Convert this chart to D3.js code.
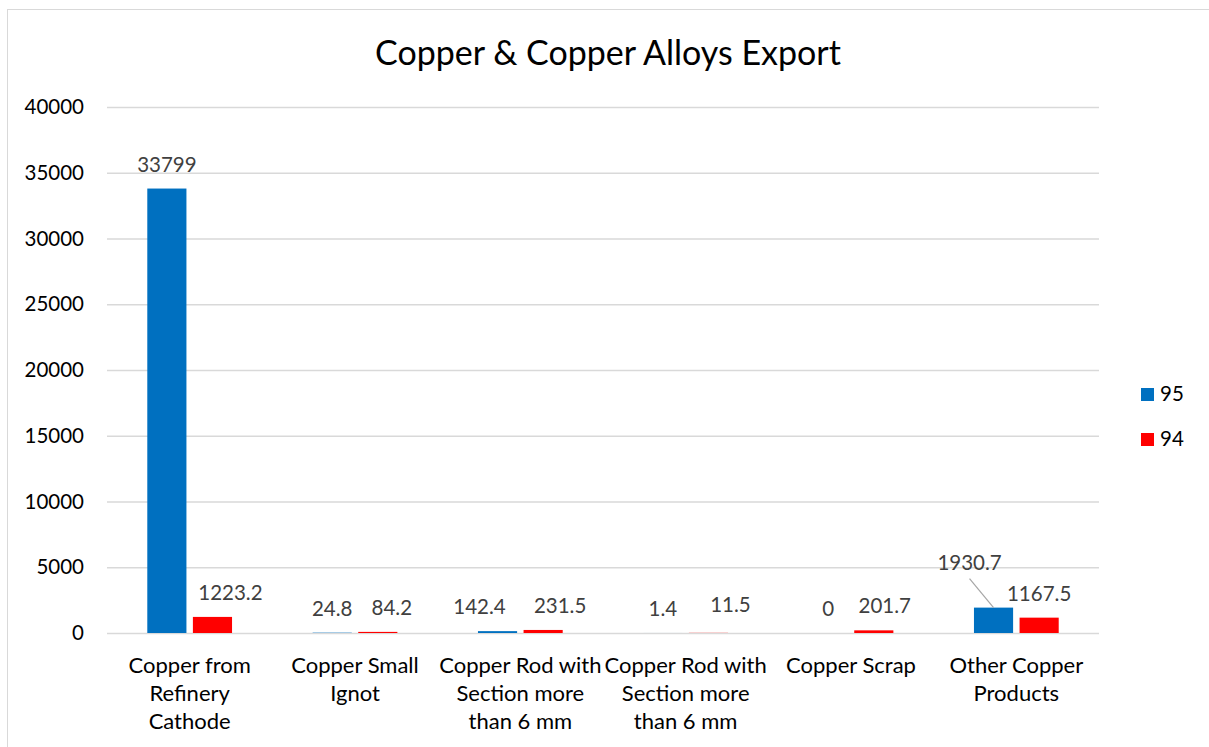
<!DOCTYPE html>
<html>
<head>
<meta charset="utf-8">
<script src="https://cdn.jsdelivr.net/npm/d3@7"></script>
<style>
  html, body { margin: 0; padding: 0; background: #fff; }
  svg { display: block; font-family: Lato, "Open Sans", sans-serif; }
</style>
</head>
<body>
<svg id="chart" width="1209" height="747"></svg>
<script>
// Export volumes by product
const categories = [
  "Copper from Refinery Cathode",
  "Copper Small Ignot",
  "Copper Rod with Section more than 6 mm",
  "Copper Rod with Section more than 6 mm",
  "Copper Scrap",
  "Other Copper Products"
];
const seriesNames = ["95", "94"];
const values95 = [33799, 24.8, 142.4, 1.4, 0, 1930.7];
const values94 = [1223.2, 84.2, 231.5, 11.5, 201.7, 1167.5];
const yTicks = [0, 5000, 10000, 15000, 20000, 25000, 30000, 35000, 40000];
const colors = ["#0070C0", "#FF0000"];

const svg = d3.select("#chart");

// chart frame
svg.append("rect")
  .attr("x", 7.5).attr("y", 9.5)
  .attr("width", 1220).attr("height", 760)
  .attr("fill", "#fff").attr("stroke", "#d9d9d9").attr("stroke-width", 1);

const plot = { left: 107, right: 1099, top: 107, bottom: 633 };

const y = d3.scaleLinear().domain([0, 40000]).range([plot.bottom, plot.top]);
const x = d3.scaleBand().domain(d3.range(categories.length))
  .range([plot.left, plot.right]).paddingInner(0).paddingOuter(0);
const bw = x.bandwidth();
const barW = bw * 0.22;
const sub = d3.scaleBand().domain(seriesNames)
  .range([bw / 2 - barW - 6, bw / 2 + barW + 6]).paddingInner(12 / (2 * barW + 12)).paddingOuter(0);

// title
svg.append("text")
  .attr("x", 608).attr("y", 65)
  .attr("text-anchor", "middle")
  .attr("font-size", 34)
  .attr("fill", "#000")
  .text("Copper & Copper Alloys Export");

// gridlines + y axis labels
const yAxis = d3.axisLeft(y).tickValues(yTicks).tickFormat(d3.format("d"))
  .tickSize(-(plot.right - plot.left)).tickPadding(23);
const gy = svg.append("g").attr("transform", `translate(${plot.left},0)`).call(yAxis);
gy.select(".domain").remove();
gy.selectAll(".tick line").attr("stroke", "#d9d9d9").attr("stroke-width", 1.3);
gy.selectAll(".tick text")
  .attr("font-size", 20.5).attr("font-family", "Lato, 'Open Sans', sans-serif")
  .attr("fill", "#000");

// bars
const series = [values95, values94];
series.forEach((vals, si) => {
  svg.append("g").selectAll("rect")
    .data(vals)
    .join("rect")
    .attr("x", (d, i) => x(i) + sub(seriesNames[si]))
    .attr("width", sub.bandwidth())
    .attr("y", d => y(d))
    .attr("height", d => Math.max(0, y(0) - y(d)))
    .attr("fill", colors[si]);
});

// data labels; some are nudged sideways so they clear the neighbouring bar
const nudge = [
  [[0, 0], [0, 0], [-18, 0], [0, 0], [0, 0], [-24, -21]],
  [[18, 0], [14, 0], [17, 0], [22, -4], [11, 0], [0, 0]]
];
series.forEach((vals, si) => {
  const g = svg.append("g");
  vals.forEach((v, i) => {
    const cx = x(i) + sub(seriesNames[si]) + sub.bandwidth() / 2;
    const top = y(v);
    const [dx, dy] = nudge[si][i];
    const ly = top - 17 + dy;
    if (dy < -10) {
      // leader line from displaced label to bar
      g.append("line")
        .attr("x1", cx + dx).attr("y1", ly + 9)
        .attr("x2", cx).attr("y2", top)
        .attr("stroke", "#a6a6a6").attr("stroke-width", 1.2);
    }
    g.append("text")
      .attr("x", cx + dx).attr("y", ly)
      .attr("text-anchor", "middle")
      .attr("font-size", 20.5)
      .attr("fill", "#404040")
      .text(d3.format("")(v));
  });
});

// category labels, wrapped to fit each band
const wrapWidth = 164;
const catG = svg.append("g").attr("font-size", 22).attr("fill", "#000");
categories.forEach((c, i) => {
  const cx = x(i) + bw / 2;
  const t = catG.append("text")
    .attr("x", cx).attr("y", 673)
    .attr("text-anchor", "middle");
  const words = c.split(" ");
  let line = [];
  let ts = t.append("tspan").attr("x", cx).attr("dy", 0);
  words.forEach(w => {
    line.push(w);
    ts.text(line.join(" "));
    if (ts.node().getComputedTextLength() > wrapWidth && line.length > 1) {
      line.pop();
      ts.text(line.join(" "));
      line = [w];
      ts = t.append("tspan").attr("x", cx).attr("dy", 28).text(w);
    }
  });
});

// legend
const lg = svg.append("g");
seriesNames.forEach((s, k) => {
  lg.append("rect")
    .attr("x", 1141).attr("y", 388 + k * 45)
    .attr("width", 13).attr("height", 13)
    .attr("fill", colors[k]);
  lg.append("text")
    .attr("x", 1160).attr("y", 401 + k * 45)
    .attr("font-size", 20.5).attr("fill", "#000")
    .text(s);
});
</script>
</body>
</html>
